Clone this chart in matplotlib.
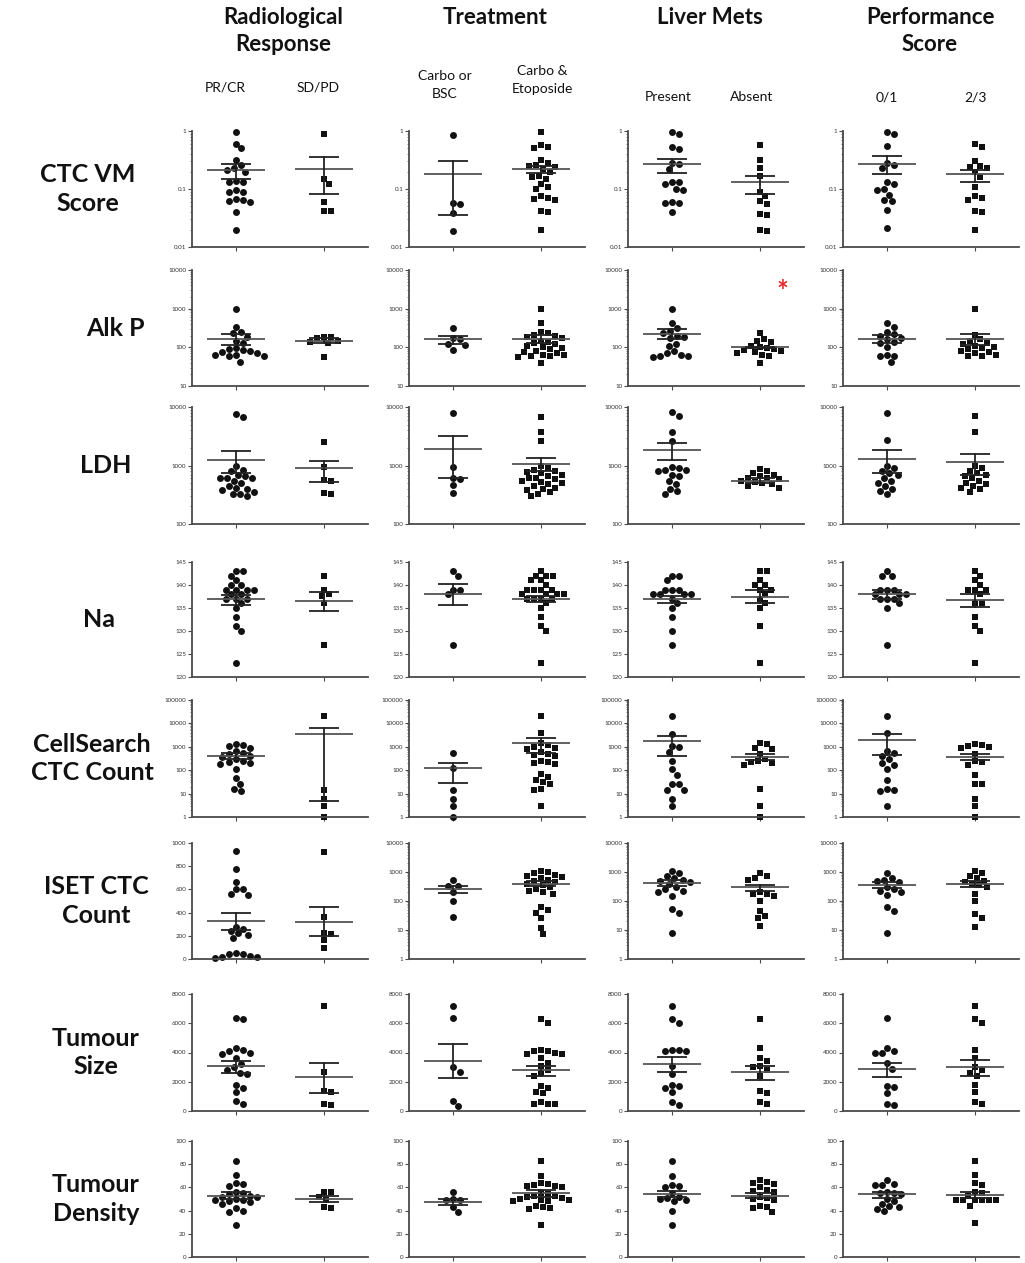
import matplotlib
matplotlib.use("Agg")
import matplotlib.pyplot as plt
import numpy as np
from matplotlib.ticker import FuncFormatter, FixedLocator, LogLocator, NullFormatter

# ---------------- data ----------------
col_titles = ["Radiological\nResponse", "Treatment", "Liver Mets", "Performance\nScore"]
group_labels = [["PR/CR", "SD/PD"], ["Carbo or\nBSC", "Carbo &\nEtoposide"],
                ["Present", "Absent"], ["0/1", "2/3"]]
row_titles = ["CTC VM\nScore", "Alk P", "LDH", "Na", "CellSearch\nCTC Count",
              "ISET CTC\nCount", "Tumour\nSize", "Tumour\nDensity"]

# Row 1: CTC VM score
vm_rad_a = [0.95, 0.6, 0.5, 0.32, 0.26, 0.23, 0.21, 0.2, 0.14, 0.13, 0.13, 0.095, 0.09, 0.088, 0.068, 0.065, 0.063, 0.06, 0.04, 0.02]
vm_rad_b = [0.88, 0.15, 0.12, 0.06, 0.042, 0.042]
vm_trt_a = [0.84, 0.057, 0.055, 0.039, 0.019]
vm_trt_b = [0.96, 0.57, 0.53, 0.5, 0.32, 0.28, 0.26, 0.25, 0.24, 0.22, 0.2, 0.17, 0.16, 0.15, 0.12, 0.11, 0.1, 0.075, 0.07, 0.068, 0.065, 0.042, 0.04, 0.02]
vm_liv_a = [0.96, 0.9, 0.53, 0.48, 0.28, 0.27, 0.22, 0.13, 0.13, 0.12, 0.1, 0.095, 0.06, 0.058, 0.057, 0.04]
vm_liv_b = [0.57, 0.32, 0.23, 0.17, 0.09, 0.075, 0.062, 0.056, 0.037, 0.036, 0.02, 0.019]
vm_ps_a = [0.95, 0.9, 0.55, 0.28, 0.26, 0.23, 0.13, 0.12, 0.1, 0.095, 0.08, 0.065, 0.063, 0.044, 0.021]
vm_ps_b = [0.6, 0.53, 0.3, 0.25, 0.24, 0.23, 0.2, 0.16, 0.11, 0.075, 0.07, 0.065, 0.042, 0.04, 0.02]
vm_mean = [0.21, 0.22, 0.18, 0.22, 0.27, 0.13, 0.27, 0.18]
vm_hi = [0.27, 0.36, 0.31, 0.25, 0.33, 0.17, 0.37, 0.21]
vm_lo = [0.15, 0.082, 0.035, 0.19, 0.19, 0.083, 0.18, 0.13]

# Row 2: Alk P
alk_rad_a = [1000, 340, 250, 230, 190, 150, 130, 95, 90, 85, 80, 75, 70, 65, 62, 60, 58, 42]
alk_rad_b = [190, 185, 170, 150, 140, 130, 56]
alk_trt_a = [320, 170, 160, 120, 115, 85]
alk_trt_b = [1000, 430, 250, 230, 210, 200, 180, 170, 150, 140, 130, 120, 110, 100, 95, 90, 80, 75, 70, 65, 62, 60, 58, 55, 40]
alk_liv_a = [1000, 430, 320, 260, 230, 200, 180, 170, 120, 110, 80, 70, 65, 60, 58, 56]
alk_liv_b = [230, 160, 150, 140, 110, 100, 95, 90, 85, 80, 75, 70, 65, 60, 40]
alk_ps_a = [430, 340, 250, 220, 200, 170, 160, 140, 130, 100, 62, 60, 58, 42]
alk_ps_b = [1000, 210, 160, 150, 130, 120, 110, 100, 95, 90, 80, 75, 70, 65, 60, 58]
alk_mean = [163, 148, 163, 163, 220, 100, 161, 163]
alk_hi = [215, 170, 195, 205, 290, 104, 210, 220]
alk_lo = [112, 128, 125, 130, 165, 96, 130, 115]

# Row 3: LDH
ldh_rad_a = [7700, 6800, 1000, 850, 800, 700, 650, 620, 600, 600, 550, 500, 450, 420, 400, 380, 350, 330, 320, 300]
ldh_rad_b = [2500, 950, 560, 540, 340, 320]
ldh_trt_a = [7900, 950, 620, 580, 470, 340]
ldh_trt_b = [6800, 3700, 2600, 1000, 900, 850, 800, 780, 750, 700, 650, 620, 600, 580, 550, 520, 500, 480, 450, 420, 400, 380, 350, 330, 300]
ldh_liv_a = [8200, 6900, 3800, 2600, 950, 900, 850, 850, 800, 700, 650, 550, 480, 400, 360, 330]
ldh_liv_b = [880, 800, 750, 700, 650, 620, 600, 580, 550, 520, 500, 480, 450, 420]
ldh_ps_a = [8000, 2700, 1000, 900, 800, 750, 700, 600, 550, 500, 450, 400, 360, 330]
ldh_ps_b = [7000, 3800, 1000, 900, 800, 750, 700, 650, 600, 550, 500, 480, 450, 420, 400, 350]
ldh_mean = [1250, 890, 1950, 1050, 1860, 550, 1300, 1150]
ldh_hi = [1780, 1200, 3150, 1350, 2450, 600, 1850, 1600]
ldh_lo = [750, 530, 600, 800, 1250, 500, 750, 700]

# Row 4: Na
na_rad_a = [143, 143, 142, 141, 140, 140, 139, 139, 139, 139, 138, 138, 137, 137, 137, 136, 135, 133, 131, 130, 123]
na_rad_b = [142, 139, 138, 137.5, 136, 127]
na_trt_a = [143, 142, 139, 139, 138, 127]
na_trt_b = [143, 142, 142, 142, 141, 141, 140, 139, 139, 139, 139, 138, 138, 138, 138, 137, 137, 137, 137, 136, 135, 133, 131, 130, 123]
na_liv_a = [142, 142, 141, 139, 139, 139, 138, 138, 138, 138, 137, 136, 135, 133, 130, 127]
na_liv_b = [143, 143, 141, 140, 140, 139, 139, 138, 137, 136, 135, 131, 123]
na_ps_a = [143, 142, 142, 139, 139, 139, 138, 138, 138, 137, 137, 137, 136, 135, 127]
na_ps_b = [143, 142, 141, 140, 139, 139, 139, 138, 136, 136, 133, 131, 130, 123]
na_mean = [136.9, 136.5, 138.0, 137.0, 137.0, 137.4, 138.0, 136.8]
na_hi = [137.8, 138.4, 140.3, 137.6, 137.7, 138.9, 138.9, 138.0]
na_lo = [135.6, 134.4, 135.6, 136.3, 136.0, 136.0, 137.0, 135.3]

# Row 5: CellSearch CTC count
cs_rad_a = [1300, 1200, 1100, 900, 650, 550, 500, 400, 350, 300, 250, 220, 200, 180, 110, 45, 25, 15, 13]
cs_rad_b = [20000, 14, 6, 3, 1]
cs_trt_a = [550, 120, 14, 6, 3, 1]
cs_trt_b = [20000, 3800, 1500, 1200, 1000, 900, 800, 600, 500, 450, 400, 250, 220, 200, 180, 70, 50, 40, 30, 25, 15, 14, 3]
cs_liv_a = [20000, 3700, 1100, 1000, 600, 250, 110, 65, 25, 25, 14, 14, 6, 3]
cs_liv_b = [1400, 1300, 900, 800, 500, 300, 250, 220, 200, 170, 16, 3, 1]
cs_ps_a = [20000, 3900, 650, 550, 400, 300, 200, 170, 110, 40, 15, 14, 13, 3]
cs_ps_b = [1300, 1200, 1100, 1000, 900, 500, 250, 230, 170, 65, 25, 25, 6, 3, 1]
cs_mean = [400, 3400, 120, 1400, 1700, 370, 1900, 380]
cs_hi = [550, 6500, 210, 2400, 2900, 500, 3400, 500]
cs_lo = [315, 5, 28, 550, 400, 280, 450, 260]

# Row 6: ISET CTC count
iset_rad_a = [935, 775, 665, 605, 600, 560, 555, 280, 260, 240, 220, 210, 180, 50, 45, 40, 30, 20, 15, 10]
iset_rad_b = [920, 360, 225, 215, 160, 95]
iset_trt_a = [510, 340, 330, 210, 100, 29]
iset_trt_b = [1100, 1000, 900, 800, 700, 650, 600, 550, 500, 450, 400, 350, 300, 250, 230, 200, 180, 60, 50, 40, 25, 12, 7]
iset_liv_a = [1100, 900, 700, 600, 550, 500, 450, 400, 300, 250, 220, 200, 150, 55, 40, 8]
iset_liv_b = [900, 700, 600, 550, 200, 180, 170, 150, 100, 45, 30, 25, 14]
iset_ps_a = [900, 600, 550, 500, 450, 300, 250, 220, 200, 160, 60, 45, 8]
iset_ps_b = [1100, 900, 700, 600, 500, 450, 400, 350, 300, 180, 100, 35, 25, 13]
iset_mean = [330, 322, 262, 400, 430, 300, 350, 400]
iset_hi = [397, 446, 340, 500, 550, 370, 440, 480]
iset_lo = [253, 195, 190, 330, 340, 220, 280, 300]

# Row 7: Tumour size
size_rad_a = [6350, 6300, 4300, 4200, 4100, 4000, 3900, 3600, 3200, 3000, 2800, 2600, 2500, 1800, 1600, 1300, 700, 500]
size_rad_b = [7200, 2700, 1400, 1300, 500, 400]
size_trt_a = [7200, 6350, 3000, 2700, 700, 350]
size_trt_b = [6300, 6000, 4200, 4100, 4100, 4000, 3900, 3900, 3600, 3300, 3100, 2800, 2600, 2400, 1700, 1600, 1300, 1200, 600, 500, 500, 500]
size_liv_a = [7200, 6300, 6000, 4200, 4150, 4100, 4100, 3100, 2500, 1800, 1700, 1600, 1300, 600, 400]
size_liv_b = [6300, 4300, 3600, 3400, 3100, 3000, 2800, 2400, 1400, 1200, 600, 500]
size_ps_a = [6350, 4300, 4100, 3950, 3950, 3300, 2900, 1700, 1650, 1200, 500, 400]
size_ps_b = [7200, 6300, 6000, 4200, 3600, 3000, 2800, 2600, 2400, 1800, 1300, 600, 500]
size_mean = [3050, 2300, 3400, 2800, 3200, 2650, 2850, 3000]
size_hi = [3450, 3300, 4550, 3100, 3700, 3050, 3300, 3500]
size_lo = [2600, 1200, 2250, 2400, 2650, 2150, 2350, 2400]

# Row 8: Tumour density
dens_rad_a = [83, 71, 64, 63, 61, 56, 55, 54, 53, 52, 52, 50, 49, 49, 48, 47, 46, 42, 40, 39, 28]
dens_rad_b = [56, 56, 52, 49, 43, 42]
dens_trt_a = [56, 50, 49, 49, 43, 39]
dens_trt_b = [83, 70, 64, 63, 62, 61, 61, 60, 55, 54, 53, 53, 52, 51, 50, 49, 49, 48, 48, 44, 43, 42, 41, 28]
dens_liv_a = [83, 70, 62, 61, 60, 55, 52, 51, 50, 49, 48, 40, 28]
dens_liv_b = [66, 65, 64, 63, 60, 58, 57, 56, 52, 51, 50, 49, 44, 43, 42, 39]
dens_ps_a = [66, 63, 62, 62, 56, 55, 55, 54, 50, 48, 46, 44, 43, 41, 40]
dens_ps_b = [83, 71, 64, 62, 56, 55, 53, 49, 49, 49, 49, 49, 49, 44, 29]
dens_mean = [53, 50, 47.5, 55, 54, 53, 54, 53.5]
dens_hi = [56, 52.5, 50, 57.5, 57, 55, 56, 56]
dens_lo = [50, 47, 45, 52, 52, 51, 51, 51]

rows = [
    ([vm_rad_a, vm_rad_b, vm_trt_a, vm_trt_b, vm_liv_a, vm_liv_b, vm_ps_a, vm_ps_b], vm_mean, vm_hi, vm_lo),
    ([alk_rad_a, alk_rad_b, alk_trt_a, alk_trt_b, alk_liv_a, alk_liv_b, alk_ps_a, alk_ps_b], alk_mean, alk_hi, alk_lo),
    ([ldh_rad_a, ldh_rad_b, ldh_trt_a, ldh_trt_b, ldh_liv_a, ldh_liv_b, ldh_ps_a, ldh_ps_b], ldh_mean, ldh_hi, ldh_lo),
    ([na_rad_a, na_rad_b, na_trt_a, na_trt_b, na_liv_a, na_liv_b, na_ps_a, na_ps_b], na_mean, na_hi, na_lo),
    ([cs_rad_a, cs_rad_b, cs_trt_a, cs_trt_b, cs_liv_a, cs_liv_b, cs_ps_a, cs_ps_b], cs_mean, cs_hi, cs_lo),
    ([iset_rad_a, iset_rad_b, iset_trt_a, iset_trt_b, iset_liv_a, iset_liv_b, iset_ps_a, iset_ps_b], iset_mean, iset_hi, iset_lo),
    ([size_rad_a, size_rad_b, size_trt_a, size_trt_b, size_liv_a, size_liv_b, size_ps_a, size_ps_b], size_mean, size_hi, size_lo),
    ([dens_rad_a, dens_rad_b, dens_trt_a, dens_trt_b, dens_liv_a, dens_liv_b, dens_ps_a, dens_ps_b], dens_mean, dens_hi, dens_lo),
]

# axis specs per row: (scale, lo, hi, ticks)
lin = lambda a, b, s: ("linear", a, b, list(np.arange(a, b + s / 2, s)))
row_axes = [
    ("log", 0.01, 1, [0.01, 0.1, 1]),
    ("log", 10, 10000, [10, 100, 1000, 10000]),
    ("log", 100, 10000, [100, 1000, 10000]),
    lin(120, 145, 5),
    ("log", 1, 100000, [1, 10, 100, 1000, 10000, 100000]),
    ("log", 1, 10000, [1, 10, 100, 1000, 10000]),
    lin(0, 8000, 2000),
    lin(0, 100, 20),
]
iset_col1_axis = lin(0, 1000, 200)

# ---------------- layout ----------------
W, H = 1025, 1263
plt.rcParams["font.family"] = ["Lato", "DejaVu Sans"]
fig = plt.figure(figsize=(W / 100, H / 100), dpi=100)

col_left = [192, 409, 628, 843]
panel_w = 176
row_tb = [(131, 247), (270, 386), (407, 524), (562, 677), (700, 817),
          (843, 959), (994, 1111), (1141, 1257)]
row_label_x = [88, 115, 106, 99, 92, 96, 96, 96]

AX_COL = "#4a4a4a"
DIAM = 7.0  # marker diameter in pixels


def fmt(v, pos):
    return "%g" % v


def swarm_x(ax, xc, vals, diam):
    vals = np.asarray(vals, float)
    pts = ax.transData.transform(np.column_stack([np.full(len(vals), xc), vals]))
    x0 = pts[0, 0]
    ypx = pts[:, 1]
    order = np.argsort(-ypx, kind="stable")
    step = diam * 0.25
    cands = [0.0]
    for j in range(1, 80):
        cands += [j * step, -j * step]
    placed = []
    xs = np.zeros(len(vals))
    for i in order:
        y = ypx[i]
        for c in cands:
            if all((c - px) ** 2 + (y - py) ** 2 >= (diam * 0.98) ** 2 for px, py in placed):
                break
        placed.append((c, y))
        xs[i] = x0 + c
    inv = ax.transData.inverted()
    return inv.transform(np.column_stack([xs, ypx]))[:, 0]


for r, (groups, means, his, los) in enumerate(rows):
    top, bot = row_tb[r]
    for c in range(4):
        left = col_left[c]
        ax = fig.add_axes([left / W, 1 - bot / H, panel_w / W, (bot - top) / H])
        spec = iset_col1_axis if (r == 5 and c == 0) else row_axes[r]
        scale, ylo, yhi, ticks = spec
        ax.set_yscale(scale)
        ax.set_ylim(ylo, yhi)
        ax.set_xlim(-0.5, 1.5)
        ax.yaxis.set_major_locator(FixedLocator(ticks))
        ax.yaxis.set_major_formatter(FuncFormatter(fmt))
        if scale == "log":
            ax.yaxis.set_minor_locator(LogLocator(base=10, subs=np.arange(2, 10)))
            ax.yaxis.set_minor_formatter(NullFormatter())
        ax.set_xticks([0, 1])
        ax.set_xticklabels([])
        for s in ["top", "right"]:
            ax.spines[s].set_visible(False)
        for s in ["left", "bottom"]:
            ax.spines[s].set_color(AX_COL)
            ax.spines[s].set_linewidth(1.3)
        ax.tick_params(axis="both", which="major", length=3, width=0.8, color=AX_COL,
                       labelsize=4.5, labelcolor="#333333", pad=1)
        ax.tick_params(axis="y", which="minor", length=1.6, width=0.5, color=AX_COL)
        ax.patch.set_alpha(0)

        for g in range(2):
            idx = 2 * c + g
            vals = groups[idx]
            xs = swarm_x(ax, g, vals, DIAM)
            ax.scatter(xs, vals, s=25 if g == 0 else 22, marker="o" if g == 0 else "s",
                       color="#111111", linewidths=0, zorder=2, clip_on=False)
            m, hi, lo = means[idx], his[idx], los[idx]
            ax.plot([g - 0.33, g + 0.33], [m, m], color="#555555", lw=1.3, zorder=3,
                    solid_capstyle="butt")
            ax.plot([g, g], [lo, hi], color="#222222", lw=1.3, zorder=3)
            for yv in (lo, hi):
                ax.plot([g - 0.17, g + 0.17], [yv, yv], color="#222222", lw=1.3,
                        zorder=3, solid_capstyle="butt")

    # row label
    fig.text(row_label_x[r] / W, 1 - ((top + bot) / 2) / H, row_titles[r],
             ha="center", va="center", fontsize=18, fontweight="bold",
             color="#111111", linespacing=1.3)

# column titles
title_x = [283, 495, 710, 930]
for c in range(4):
    fig.text(title_x[c] / W, 1 - 7 / H, col_titles[c], ha="center", va="top",
             fontsize=16, fontweight="bold", color="#111111", linespacing=1.35)

# group labels
glabel_pos = [[(225, 88), (318, 88)], [(445, 85), (542, 80)],
              [(668, 97), (752, 97)], [(887, 97), (975, 97)]]
for c in range(4):
    for g in range(2):
        x, y = glabel_pos[c][g]
        fig.text(x / W, 1 - y / H, group_labels[c][g], ha="center", va="center",
                 fontsize=10, color="#111111", linespacing=1.65)

# significance marker
fig.text(782 / W, 1 - 292 / H, "*", ha="center", va="center", fontsize=20,
         color="#e8262a", fontweight="bold")

fig.savefig("out.png", dpi=100)
